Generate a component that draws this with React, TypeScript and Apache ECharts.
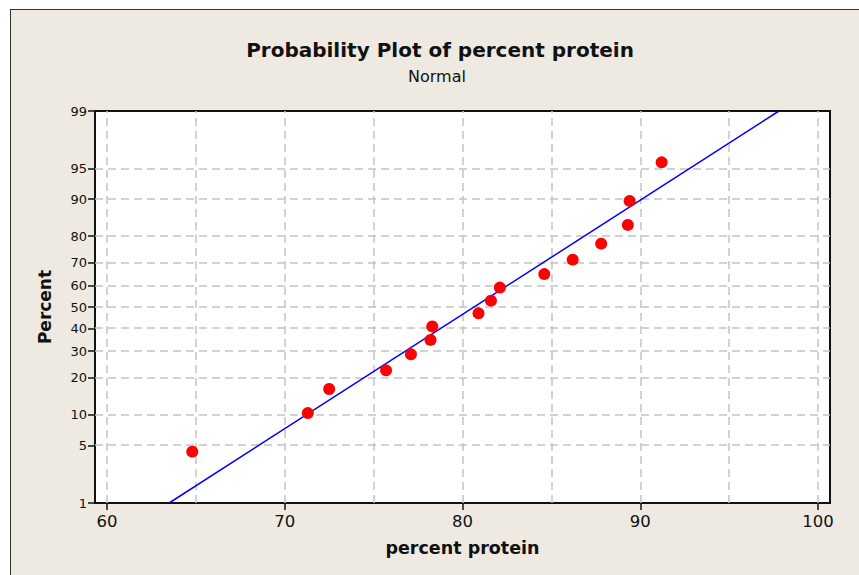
import React, { useEffect, useRef } from "react";
import * as echarts from "echarts";

// Data (sorted percent protein, plotted percents)
const proteinValues = [64.8, 71.3, 72.5, 75.7, 77.1, 78.2, 78.3, 80.9, 81.6, 82.1, 84.6, 86.2, 87.8, 89.3, 89.4, 91.2];
const percentValues = [4.3, 10.4, 16.5, 22.6, 28.7, 34.8, 40.9, 47.0, 53.0, 59.1, 65.2, 71.3, 77.4, 83.5, 89.6, 95.7];
// Fitted normal line end points
const fitLineX = [63.5, 97.8];
const fitLinePercent = [1, 99];
// Axis ticks / grid
const yTickPercents = [1, 5, 10, 20, 30, 40, 50, 60, 70, 80, 90, 95, 99];
const yGridPercents = [5, 10, 20, 30, 40, 50, 60, 70, 80, 90, 95];
const xTickValues = [60, 70, 80, 90, 100];
const xGridValues = [60, 65, 70, 75, 80, 85, 90, 95, 100];
const xMin = 59.33;
const xMax = 100.67;

function probit(p: number): number {
  const a = [-3.969683028665376e1, 2.209460984245205e2, -2.759285104469687e2, 1.38357751867269e2, -3.066479806614716e1, 2.506628277459239];
  const b = [-5.447609879822406e1, 1.615858368580409e2, -1.556989798598866e2, 6.680131188771972e1, -1.328068155288572e1];
  const c = [-7.784894002430293e-3, -3.223964580411365e-1, -2.400758277161838, -2.549732539343734, 4.374664141464968, 2.938163982698783];
  const d = [7.784695709041462e-3, 3.224671290700398e-1, 2.445134137142996, 3.754408661907416];
  const pl = 0.02425;
  const ph = 1 - pl;
  let q: number;
  let r: number;
  if (p < pl) {
    q = Math.sqrt(-2 * Math.log(p));
    return (((((c[0] * q + c[1]) * q + c[2]) * q + c[3]) * q + c[4]) * q + c[5]) / ((((d[0] * q + d[1]) * q + d[2]) * q + d[3]) * q + 1);
  }
  if (p <= ph) {
    q = p - 0.5;
    r = q * q;
    return ((((((a[0] * r + a[1]) * r + a[2]) * r + a[3]) * r + a[4]) * r + a[5]) * q) / (((((b[0] * r + b[1]) * r + b[2]) * r + b[3]) * r + b[4]) * r + 1);
  }
  q = Math.sqrt(-2 * Math.log(1 - p));
  return -(((((c[0] * q + c[1]) * q + c[2]) * q + c[3]) * q + c[4]) * q + c[5]) / ((((d[0] * q + d[1]) * q + d[2]) * q + d[3]) * q + 1);
}

const z = (pct: number) => probit(pct / 100);

export default function App() {
  const ref = useRef<HTMLDivElement>(null);

  useEffect(() => {
    document.body.style.margin = "0";
    if (!ref.current) return;
    const chart = echarts.init(ref.current, undefined, { renderer: "svg" });
    const font = "DejaVu Sans";
    const yTickZ = yTickPercents.map(z);
    const gridStyle = { type: [8, 5] as any, color: "#c4c4c4", width: 1.5 };

    chart.setOption({
      animation: false,
      backgroundColor: "transparent",
      textStyle: { fontFamily: font },
      grid: {
        left: 95,
        top: 111,
        right: 29,
        bottom: 72,
        show: true,
        backgroundColor: "#ffffff",
        borderColor: "#111",
        borderWidth: 2,
      },
      graphic: [
        {
          type: "text",
          x: 440,
          y: 50,
          style: {
            text: "Probability Plot of percent protein",
            font: `bold 20px "${font}"`,
            fill: "#111",
            textAlign: "center",
            textVerticalAlign: "middle",
          },
        },
        {
          type: "text",
          x: 437,
          y: 76,
          style: {
            text: "Normal",
            font: `16px "${font}"`,
            fill: "#111",
            textAlign: "center",
            textVerticalAlign: "middle",
          },
        },
      ],
      xAxis: {
        type: "value",
        min: xMin,
        max: xMax,
        name: "percent protein",
        nameLocation: "middle",
        nameGap: 36,
        nameTextStyle: { fontFamily: font, fontWeight: "bold", fontSize: 17.5, color: "#111" },
        axisLine: { show: true, onZero: false, lineStyle: { color: "#111", width: 2 } },
        axisTick: { show: true, length: 7, customValues: xTickValues, lineStyle: { color: "#111", width: 1.5 } },
        axisLabel: { customValues: xTickValues, fontSize: 16.5, color: "#111", margin: 10, fontFamily: font },
        splitLine: { show: false },
      },
      yAxis: {
        type: "value",
        min: z(1),
        max: z(99),
        name: "Percent",
        nameLocation: "middle",
        nameGap: 42,
        nameTextStyle: { fontFamily: font, fontWeight: "bold", fontSize: 17, color: "#111" },
        axisLine: { show: true, onZero: false, lineStyle: { color: "#111", width: 2 } },
        axisTick: { show: true, length: 7, customValues: yTickZ, lineStyle: { color: "#111", width: 1.5 } },
        axisLabel: {
          customValues: yTickZ,
          fontSize: 13,
          color: "#111",
          margin: 8,
          fontFamily: font,
          formatter: (v: number) => {
            let best = 0;
            for (let i = 0; i < yTickZ.length; i++) {
              if (Math.abs(yTickZ[i] - v) < Math.abs(yTickZ[best] - v)) best = i;
            }
            return String(yTickPercents[best]);
          },
        },
        splitLine: { show: false },
      },
      series: [
        {
          type: "line",
          data: [],
          z: 1,
          silent: true,
          markLine: {
            z: 1,
            silent: true,
            symbol: ["none", "none"],
            label: { show: false },
            lineStyle: gridStyle,
            emphasis: { disabled: true },
            data: [
              ...xGridValues.map((v) => ({ xAxis: v, lineStyle: gridStyle })),
              ...yGridPercents.map((p) => ({ yAxis: z(p), lineStyle: gridStyle })),
            ],
          },
        },
        {
          type: "line",
          z: 3,
          data: fitLineX.map((x, i) => [x, z(fitLinePercent[i])]),
          showSymbol: false,
          symbol: "none",
          lineStyle: { color: "#0000ff", width: 1.5 },
          silent: true,
        },
        {
          type: "scatter",
          z: 4,
          data: proteinValues.map((x, i) => [x, z(percentValues[i])]),
          symbol: "circle",
          symbolSize: 12,
          itemStyle: { color: "#ff0000", opacity: 1 },
        },
      ],
    });
    return () => chart.dispose();
  }, []);

  return (
    <div style={{ position: "relative", width: 859, height: 575, background: "#ffffff", overflow: "hidden" }}>
      <div
        style={{
          position: "absolute",
          left: 10,
          top: 9,
          width: 880,
          height: 600,
          background: "#eeeae1",
          border: "1px solid #333",
          boxSizing: "border-box",
        }}
      />
      <div ref={ref} style={{ position: "absolute", left: 0, top: 0, width: 859, height: 575 }} />
    </div>
  );
}
